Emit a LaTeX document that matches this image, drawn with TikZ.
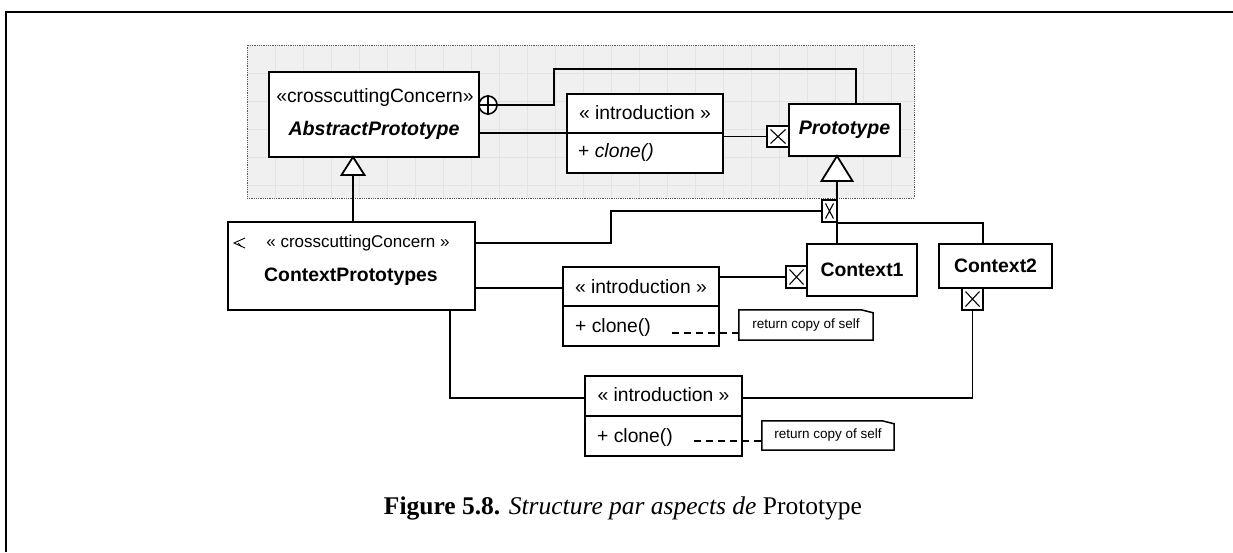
\documentclass[tikz,border=0pt]{standalone}
\usepackage{fontspec}
\setmainfont{Liberation Sans}
\newfontfamily\capfont{Liberation Serif}
\usetikzlibrary{calc}
\newcommand\setfs[1]{\fontsize{#1}{#1}\selectfont}
\begin{document}
\begin{tikzpicture}[x=1pt,y=-1pt,
  box/.style={draw, line width=1.8pt, fill=white, rectangle, inner sep=0pt},
  txt/.style={inner sep=0pt, font=\setfs{19.3}},
  conn/.style={line width=1.8pt},
  xmark/.style={draw, line width=1.5pt, fill=white, rectangle, inner sep=0pt,
    path picture={\draw[line width=1.1pt]
      ($(path picture bounding box.north west)+(3.5,3.5)$) -- ($(path picture bounding box.south east)+(-3.5,-3.5)$)
      ($(path picture bounding box.south west)+(3.5,-3.5)$) -- ($(path picture bounding box.north east)+(-3.5,3.5)$);}},
  notebox/.style={inner sep=0pt, font=\setfs{13.5}},
  dashline/.style={line width=1.4pt, dash pattern=on 7pt off 5pt},
  pkg/.style={rectangle, fill=gray!12, draw=gray!70!black, densely dotted, line width=0.8pt, inner sep=0pt},
  gridline/.style={gray!22, line width=0.5pt}
]
\useasboundingbox (0,0) rectangle (1233,552);
% frame
\draw[line width=2pt] (6,552) -- (6,12) -- (1233,12);

% package region
\node[pkg, minimum width=667pt, minimum height=153pt] (pkg) at (580.5,121.5) {};
\foreach \gx in {275,303,...,903} \draw[gridline] (\gx,46) -- (\gx,197);
\foreach \gy in {73,101,...,185} \draw[gridline] (248,\gy) -- (913,\gy);

% AbstractPrototype
\node[box, minimum width=210pt, minimum height=85pt] (abs) at (374,114.5) {};
\node[txt] (absS) at (375,98) {«crosscuttingConcern»};
\node[txt, font=\setfs{19.6}\bfseries\itshape] (absN) at (374,130) {AbstractPrototype};

% introduction (top)
\node[box, minimum width=156pt, minimum height=79pt] (introA) at (645,133.5) {};
\coordinate (dA) at (0,133);
\draw[conn] (introA.west |- dA) -- (introA.east |- dA);
\node[txt] (introAS) at (645,113) {« introduction »};
\node[txt, anchor=west] (introAM) at (578,153) {+ \textit{clone()}};

% Prototype
\node[box, minimum width=111pt, minimum height=52pt, font=\setfs{19.6}\bfseries\itshape] (prot) at (844.5,130) {Prototype};
\node[xmark, minimum width=22pt, minimum height=21pt] (xA) at (778,136.5) {};

% circle plus
\node[draw, circle, line width=1.6pt, fill=white, minimum size=18pt, inner sep=0pt] (cp) at (488,105) {};
\draw[line width=1.4pt] (cp.north) -- (cp.south) (cp.west) -- (cp.east);

% connectors top
\draw[conn] (cp.east) -| (554,69) -| ($(prot.north)+(11.5,0)$);
\draw[conn] (abs.east |- dA) -- (introA.west |- dA);
\draw[conn] (introA.east |- xA.west) -- (xA.west);

% ContextPrototypes
\node[box, minimum width=247pt, minimum height=88pt] (ctxp) at (351.5,266) {};
\node[txt, font=\setfs{17}] (ctxpS) at (358,243) {« crosscuttingConcern »};
\node[txt, font=\setfs{19.4}\bfseries] (ctxpN) at (351,277) {ContextPrototypes};
\draw[line width=0.9pt] (245,238) -- (234,243) -- (245,248);
\draw[line width=0.9pt] (238,243) -- (241,246);

% generalization AbstractPrototype
\coordinate (tA) at (353,157);
\coordinate (tAb) at (353,175);
\draw[conn, fill=white] (tA) -- ++(-11.5,18) -- ++(23,0) -- cycle;
\draw[conn] (tAb) -- (tAb |- ctxp.north);

% Context1, Context2
\node[box, minimum width=110pt, minimum height=52pt, font=\setfs{19.4}\bfseries] (ctx1) at (862,270) {Context1};
\node[box, minimum width=113pt, minimum height=44pt, font=\setfs{19.4}\bfseries] (ctx2) at (995.5,266) {Context2};

% generalization Prototype
\coordinate (tP) at (837,156);
\coordinate (tPb) at (837,181);
\draw[conn, fill=white] (tP) -- ++(-15.5,25) -- ++(31,0) -- cycle;
\draw[conn] (tPb) -- (tPb |- ctx1.north);

\node[xmark, minimum width=15pt, minimum height=22pt] (xB) at (829.5,211) {};
\node[xmark, minimum width=21pt, minimum height=22pt] (xC) at (796.5,277) {};
\node[xmark, minimum width=21pt, minimum height=22pt] (xD) at (972.5,299) {};

\draw[conn] ($(ctxp.east)+(0,-23)$) -| (611,211) -- (xB.west);
\draw[conn] (xB.south east) -| ($(ctx2.north)+(-12.5,0)$);

% introduction (middle)
\node[box, minimum width=156pt, minimum height=79pt] (introB) at (641,306.5) {};
\coordinate (dB) at (0,306);
\draw[conn] (introB.west |- dB) -- (introB.east |- dB);
\node[txt] (introBS) at (641,287) {« introduction »};
\node[txt, anchor=west] (introBM) at (575,327) {+ clone()};
\draw[conn] ($(ctxp.east)+(0,22)$) -- ($(introB.west)+(0,-18.5)$);
\draw[conn] (introB.east |- xC.west) -- (xC.west);

% note 1
\node[notebox, minimum width=134pt, minimum height=30pt] (n1) at (806,325) {return copy of self};
\draw[line width=1.5pt] (n1.south west) -- (n1.north west) -- ($(n1.north east)+(-12,0)$) -- ($(n1.north east)+(0,3)$) -- (n1.south east) -- cycle;
\coordinate (d1) at (672,333);
\draw[dashline] (d1) -- (d1 -| n1.west);

% introduction (bottom)
\node[box, minimum width=157pt, minimum height=80pt] (introC) at (663.5,416) {};
\coordinate (dC) at (0,416);
\draw[conn] (introC.west |- dC) -- (introC.east |- dC);
\node[txt] (introCS) at (663.5,395) {« introduction »};
\node[txt, anchor=west] (introCM) at (597,437) {+ clone()};
\draw[conn] ($(ctxp.south)+(98.5,0)$) |- ($(introC.west)+(0,-18)$);
\draw[conn] ($(introC.east)+(0,-18)$) -| (xD.south);

% note 2
\node[notebox, minimum width=132pt, minimum height=29pt] (n2) at (828,435.5) {return copy of self};
\draw[line width=1.5pt] (n2.south west) -- (n2.north west) -- ($(n2.north east)+(-12,0)$) -- ($(n2.north east)+(0,3)$) -- (n2.south east) -- cycle;
\coordinate (d2) at (694,441);
\draw[dashline] (d2) -- (d2 -| n2.west);

% caption
\node[inner sep=0pt, font=\capfont\setfs{25.5}] (cap) at (623,508) {\textbf{Figure 5.8.} \textit{Structure par aspects de} Prototype};
\end{tikzpicture}
\end{document}
